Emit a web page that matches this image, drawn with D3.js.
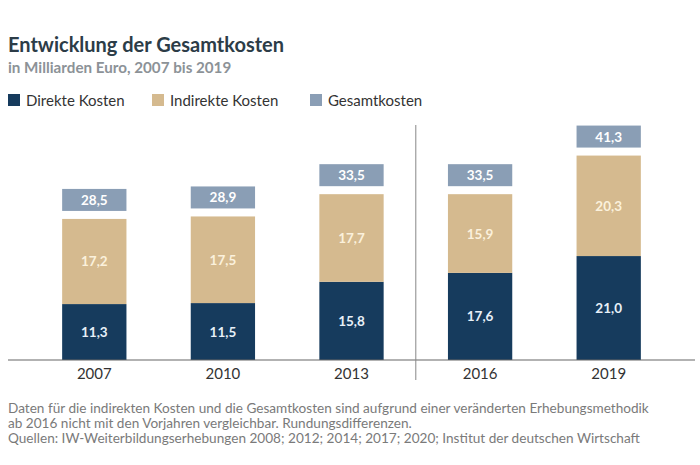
<!DOCTYPE html>
<html>
<head>
<meta charset="utf-8">
<script src="https://cdn.jsdelivr.net/npm/d3@7"></script>
<style>
  body { margin: 0; background: #fff; }
  svg text { font-family: Lato, "Open Sans", sans-serif; }
</style>
</head>
<body>
<div id="graphic"></div>
<script>
const years = ["2007", "2010", "2013", "2016", "2019"]
const direkte = [11.3, 11.5, 15.8, 17.6, 21.0]
const indirekte = [17.2, 17.5, 17.7, 15.9, 20.3]
const gesamt = [28.5, 28.9, 33.5, 33.5, 41.3]
const seriesNames = ["Direkte Kosten", "Indirekte Kosten", "Gesamtkosten"]
const colors = ["#163b5d", "#d5ba8f", "#8a9eb5"]

const width = 700, height = 465
const baseline = 360

const svg = d3.select("#graphic")
    .append("svg")
    .attr("width", width)
    .attr("height", height)

// title
svg.append("text")
    .attr("x", 8).attr("y", 52)
    .attr("font-size", 20).attr("font-weight", 700)
    .attr("fill", "#2c3c47")
    .text("Entwicklung der Gesamtkosten")
svg.append("text")
    .attr("x", 8).attr("y", 73)
    .attr("font-size", 15.2).attr("font-weight", 700)
    .attr("fill", "#8c9297")
    .text("in Milliarden Euro, 2007 bis 2019")

// legend
const legendX = [8, 152, 310]
const legend = svg.selectAll(".legend")
    .data(seriesNames)
    .join("g")
    .attr("transform", (d, i) => `translate(${legendX[i]},94)`)
legend.append("rect")
    .attr("width", 12).attr("height", 12)
    .attr("fill", (d, i) => colors[i])
legend.append("text")
    .attr("x", 18).attr("y", 11.5)
    .attr("font-size", 15)
    .attr("fill", "#333")
    .text(d => d)

const x = d3.scaleBand()
    .domain(years)
    .range([30, 673])
    .paddingInner(0.5)
    .paddingOuter(0.25)

const y = d3.scaleLinear()
    .domain([0, 10])
    .range([baseline, baseline - 49.5])

const data = years.map((yr, i) => ({ year: yr, d: direkte[i], ind: indirekte[i], g: gesamt[i] }))

// direct
svg.selectAll(".direkt")
    .data(data)
    .join("rect")
    .attr("x", d => x(d.year))
    .attr("y", d => y(d.d))
    .attr("width", x.bandwidth())
    .attr("height", d => baseline - y(d.d))
    .attr("fill", colors[0])

// indirect
svg.selectAll(".indirekt")
    .data(data)
    .join("rect")
    .attr("x", d => x(d.year))
    .attr("y", d => y(d.d + d.ind))
    .attr("width", x.bandwidth())
    .attr("height", d => y(d.d) - y(d.d + d.ind))
    .attr("fill", colors[1])

// total box above stack
const boxGap = 8, boxH = 22
svg.selectAll(".gesamt")
    .data(data)
    .join("rect")
    .attr("x", d => x(d.year))
    .attr("y", d => y(d.d + d.ind) - boxGap - boxH)
    .attr("width", x.bandwidth())
    .attr("height", boxH)
    .attr("fill", colors[2])

const fmt = v => v.toFixed(1).replace(".", ",")
const labelStyle = sel => sel
    .attr("text-anchor", "middle")
    .attr("dominant-baseline", "central")
    .attr("font-size", 13.5)
    .attr("font-weight", 700)

svg.selectAll(".lblD")
    .data(data)
    .join("text")
    .call(labelStyle)
    .attr("x", d => x(d.year) + x.bandwidth() / 2)
    .attr("y", d => (y(0) + y(d.d)) / 2)
    .attr("fill", "#e8f0f8")
    .text(d => fmt(d.d))

svg.selectAll(".lblI")
    .data(data)
    .join("text")
    .call(labelStyle)
    .attr("x", d => x(d.year) + x.bandwidth() / 2)
    .attr("y", d => (y(d.d) + y(d.d + d.ind)) / 2)
    .attr("fill", "#fbf1dc")
    .text(d => fmt(d.ind))

svg.selectAll(".lblG")
    .data(data)
    .join("text")
    .call(labelStyle)
    .attr("x", d => x(d.year) + x.bandwidth() / 2)
    .attr("y", d => y(d.d + d.ind) - boxGap - boxH / 2)
    .attr("fill", "#fff")
    .text(d => fmt(d.g))

// x axis
const xAxis = svg.append("g")
    .attr("transform", `translate(0,${baseline})`)
    .call(d3.axisBottom(x).tickSize(0).tickPadding(8))
xAxis.select(".domain").remove()
xAxis.selectAll("text")
    .attr("font-size", 15)
    .attr("font-family", "Lato, sans-serif")
    .attr("fill", "#333")
svg.append("line")
    .attr("x1", 8).attr("x2", 695)
    .attr("y1", baseline).attr("y2", baseline)
    .attr("stroke", "#666").attr("stroke-width", 1.2)

// separator between 2013 and 2016
const sepX = (x("2013") + x("2016") + x.bandwidth()) / 2
svg.append("line")
    .attr("x1", sepX).attr("x2", sepX)
    .attr("y1", 125).attr("y2", 380)
    .attr("stroke", "#888").attr("stroke-width", 1)

// footnote
const notes = [
    "Daten für die indirekten Kosten und die Gesamtkosten sind aufgrund einer veränderten Erhebungsmethodik",
    "ab 2016 nicht mit den Vorjahren vergleichbar. Rundungsdifferenzen.",
    "Quellen: IW-Weiterbildungserhebungen 2008; 2012; 2014; 2017; 2020; Institut der deutschen Wirtschaft"
]
svg.selectAll(".note")
    .data(notes)
    .join("text")
    .attr("x", 8)
    .attr("y", (d, i) => 413 + i * 15)
    .attr("font-size", 13.6)
    .attr("fill", "#7a7a7a")
    .text(d => d)
</script>
</body>
</html>
